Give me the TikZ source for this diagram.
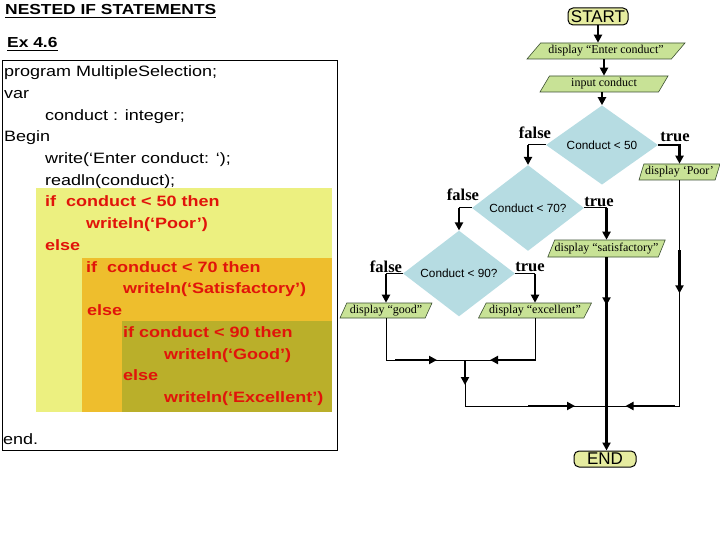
\documentclass[tikz,border=0pt]{standalone}
\usepackage{fontspec}
\setmainfont{Liberation Sans}
\newfontfamily\codefont[FakeStretch=1.2]{Liberation Sans}
\newfontfamily\fcserif{Liberation Serif}
\usetikzlibrary{shapes.geometric,arrows.meta,calc}
\definecolor{codered}{RGB}{225,20,10}
\definecolor{yl}{RGB}{236,240,128}
\definecolor{og}{RGB}{238,190,45}
\definecolor{ol}{RGB}{186,175,42}
\definecolor{dfill}{RGB}{182,220,226}
\definecolor{pfill}{RGB}{200,226,150}
\definecolor{tfill}{RGB}{230,236,160}
\definecolor{pborder}{RGB}{60,80,50}
\begin{document}
\begin{tikzpicture}[x=1pt,y=-1pt,
  code/.style={anchor=base west,inner sep=0,font=\codefont\fontsize{15}{18}\selectfont},
  redcode/.style={anchor=base west,inner sep=0,text=codered,font=\codefont\bfseries\fontsize{15}{18}\selectfont},
  head/.style={anchor=base west,inner sep=0,font=\codefont\bfseries\fontsize{14.5}{15}\selectfont},
  term/.style={draw=black,line width=1pt,fill=tfill,rounded corners=5pt,minimum width=60pt,minimum height=17pt,inner sep=0,font=\fontsize{17}{17}\selectfont},
  dec/.style={diamond,fill=dfill,minimum width=112pt,minimum height=78pt,inner sep=0,font=\fontsize{11.8}{12}\selectfont},
  io/.style={trapezium,trapezium stretches body,draw=pborder,line width=0.6pt,fill=pfill,minimum height=16pt,inner sep=0,font=\fcserif\fontsize{12}{12}\selectfont},
  lbl/.style={font=\fcserif\bfseries\fontsize{16.5}{17}\selectfont,inner sep=0},
  thk/.style={line width=2.6pt},
  thn/.style={line width=1pt},
  arr/.style={-{Triangle[length=8pt,width=8pt]}}]
\useasboundingbox (0,0) rectangle (720,540);
% headings
\node[head] (title) at (5,15) {NESTED IF STATEMENTS};
\draw[line width=1.3pt] ($(title.base west)+(0,2.5)$) -- ($(title.base east)+(0,2.5)$);
\node[head] (ex) at (7,48) {Ex 4.6};
\draw[line width=1.3pt] ($(ex.base west)+(0,2.5)$) -- ($(ex.base east)+(0,2.5)$);
% code box
\draw[line width=1pt] (2,61) rectangle (337,450);
\fill[yl] (36,188) rectangle (332,412);
\fill[og] (82,258) rectangle (332,412);
\fill[ol] (122,321) rectangle (332,412);
\node[code] (c1) at (4,77) {program MultipleSelection;};
\node[code] (c2) at (4,98.7) {var};
\node[code] (c3) at (45,120.3) {conduct : integer;};
\node[code] (c4) at (4,142) {Begin};
\node[code] (c5) at (45,163.7) {write(‘Enter conduct: ‘);};
\node[code] (c6) at (45,185.4) {readln(conduct);};
\node[redcode] (c7) at (45,207) {if\ \ conduct < 50 then};
\node[redcode] (c8) at (86,228.8) {writeln(‘Poor’)};
\node[redcode] (c9) at (45,250.5) {else};
\node[redcode] (c10) at (86,272.2) {if\ \ conduct < 70 then};
\node[redcode] (c11) at (123,293.9) {writeln(‘Satisfactory’)};
\node[redcode] (c12) at (87,315.6) {else};
\node[redcode] (c13) at (123,337.3) {if conduct < 90 then};
\node[redcode] (c14) at (164,359) {writeln(‘Good’)};
\node[redcode] (c15) at (123,380.7) {else};
\node[redcode] (c16) at (164,402.4) {writeln(‘Excellent’)};
\node[code] (c17) at (3,444) {end.};
% flowchart nodes
\node[term] (start) at (598,16.5) {START};
\node[io,trapezium left angle=38.7,trapezium right angle=141.3,minimum width=158pt] (disp1) at (606,51) {display “Enter conduct”};
\node[io,trapezium left angle=49,trapezium right angle=131,minimum width=128pt] (inp) at (604,84) {input conduct};
\node[dec] (d1) at (602,145) {Conduct < 50};
\node[io,trapezium left angle=66,trapezium right angle=114,minimum width=81pt] (poor) at (679.5,172) {display ‘Poor’};
\node[dec] (d2) at (528,208) {Conduct < 70?};
\node[io,trapezium left angle=58,trapezium right angle=122,minimum width=113pt,minimum height=17pt] (satis) at (606.5,248.5) {display “satisfactory”};
\node[dec,minimum height=77pt] (d3) at (459,273.5) {Conduct < 90?};
\node[io,trapezium left angle=58,trapezium right angle=122,minimum width=92pt,minimum height=15pt] (good) at (386,310.5) {display “good”};
\node[io,trapezium left angle=55,trapezium right angle=125,minimum width=113pt,minimum height=15pt] (excel) at (535,310.5) {display “excellent”};
\node[term,minimum width=62pt,minimum height=16pt] (end) at (605,459) {END};
% labels
\node[lbl] (f1) at (535,133) {false};
\node[lbl] (t1) at (675,137) {true};
\node[lbl] (f2) at (463,195) {false};
\node[lbl] (t2) at (599,202) {true};
\node[lbl] (f3) at (386,267) {false};
\node[lbl] (t3) at (530,267) {true};
% merge points
\coordinate (m1) at (465,360);
\coordinate (m2) at (465,406);
\coordinate (j) at (606.5,406);
% connectors
\draw[thk,arr] (start.south) -- (start.south |- disp1.north);
\draw[thk,arr] (inp.north |- disp1.south) -- (inp.north);
\draw[thk,arr] (d1.north |- inp.south) -- (d1.north);
\draw[thk,arr] (d1.east) -| (poor.north);
\draw[thn] (d1.west) -- (d1.west -| d2.north);
\draw[thk,arr] (d1.west -| d2.north) -- (d2.north);
\draw[thn] (d2.east) -- (d2.east -| satis.north);
\draw[thk,arr] (d2.east -| satis.north) -- (satis.north);
\draw[thn] (d2.west) -- (d2.west -| d3.north);
\draw[thk,arr] (d2.west -| d3.north) -- (d3.north);
\draw[thn] (d3.west) -- (d3.west -| good.north);
\draw[thk,arr] (d3.west -| good.north) -- (good.north);
\draw[thn] (d3.east) -- (d3.east -| excel.north);
\draw[thk,arr] (d3.east -| excel.north) -- (excel.north);
\draw[thk,arr] (satis.south) -- (satis.south |- end.north);
\draw[thk,arr] (satis.south) -- ($(satis.south)+(0,48)$);
\draw[thn] (poor.south) |- (j);
\draw[thk,arr] ($(poor.south)+(0,70)$) -- ($(poor.south)+(0,113)$);
\draw[thk,arr] ($(poor.south |- j)+(-5,0)$) -- ($(j)+(19,0)$);
\draw[thn] (good.south) |- (m1);
\draw[thk,arr] ($(good.south |- m1)+(9,0)$) -- ($(m1)+(-28,0)$);
\draw[thn] (excel.south) |- (m1);
\draw[thk,arr] (excel.south |- m1) -- ($(m1)+(25,0)$);
\draw[thk,arr] (m1) -- ($(m1)+(0,25)$);
\draw[thn] (m1) -- (m2) -- (j);
\draw[thk,arr] ($(m2)+(63,0)$) -- ($(m2)+(110,0)$);
\end{tikzpicture}
\end{document}
